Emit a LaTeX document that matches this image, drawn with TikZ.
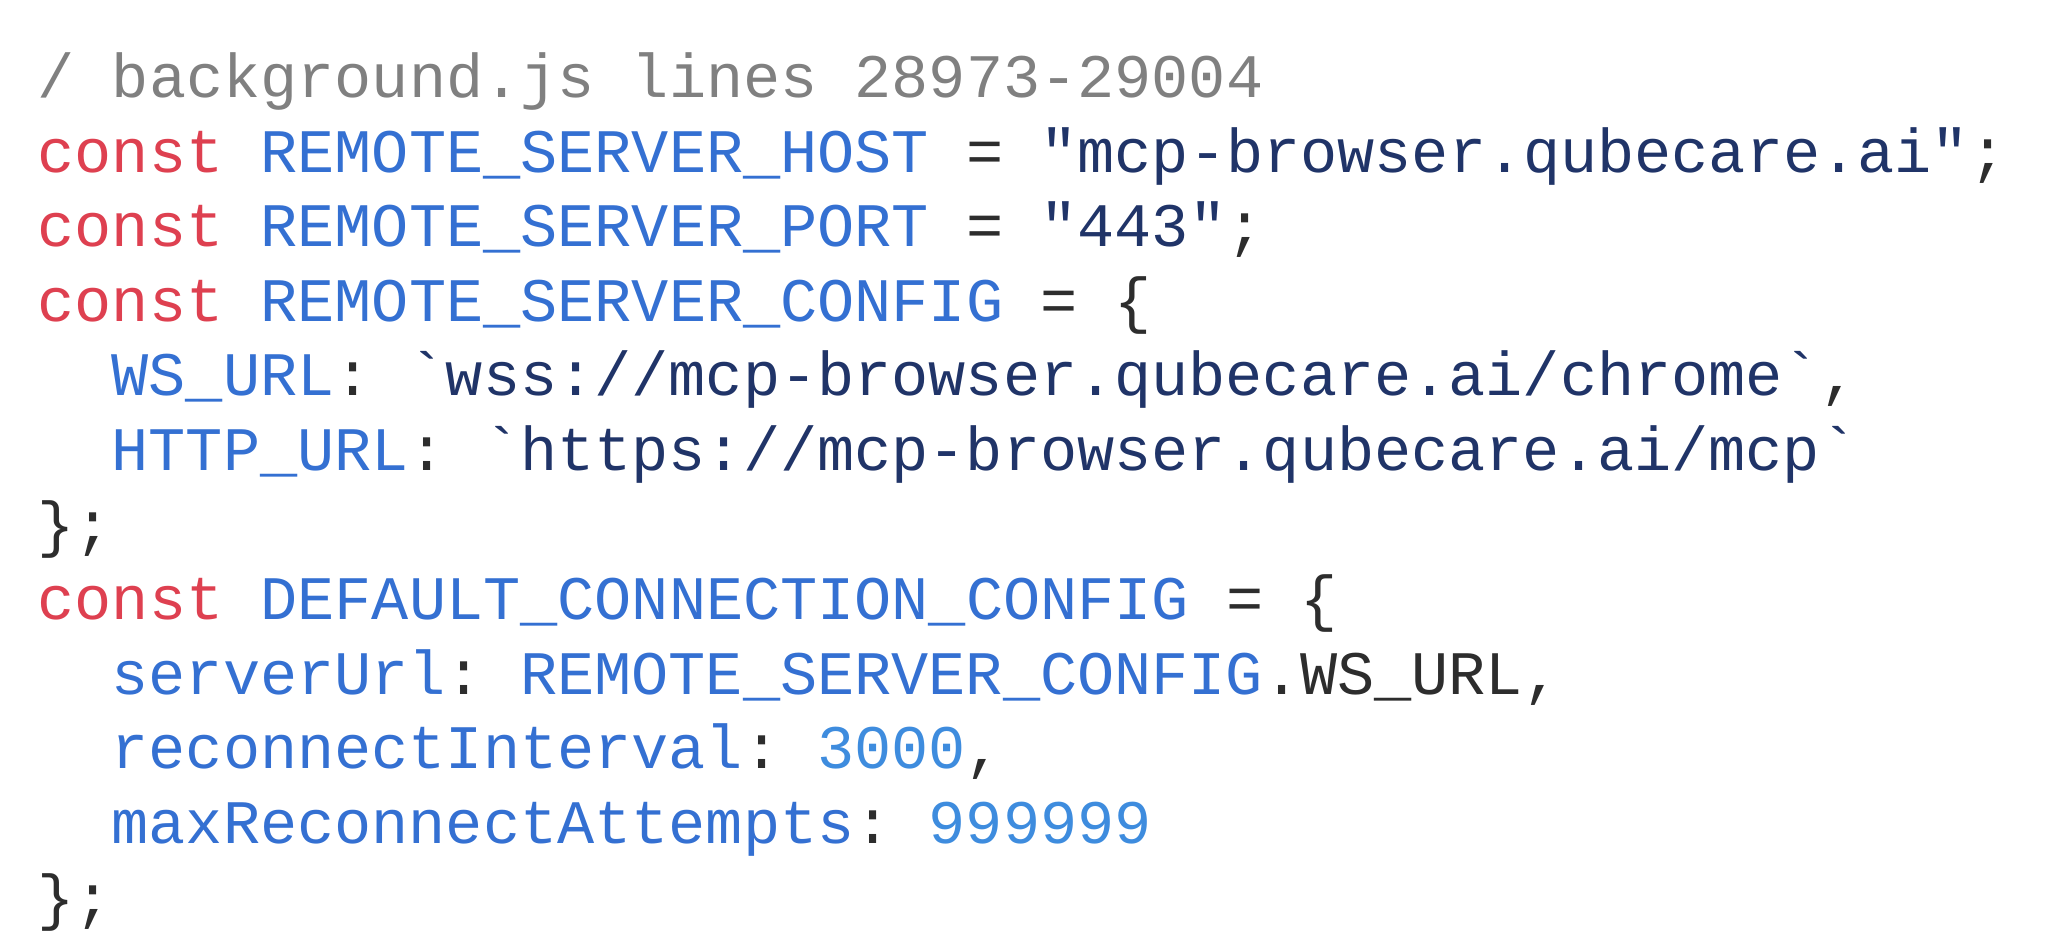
\documentclass[tikz,border=0pt]{standalone}
\usepackage{fontspec}
\setmonofont{Liberation Mono}
\usepackage{tikz}
\definecolor{kwred}{RGB}{222,64,80}
\definecolor{idblue}{RGB}{52,112,210}
\definecolor{strnavy}{RGB}{32,52,104}
\definecolor{numblue}{RGB}{62,140,222}
\definecolor{cmtgray}{RGB}{128,128,128}
\definecolor{punct}{RGB}{45,45,45}
\newcommand{\kw}[1]{\textcolor{kwred}{#1}}
\newcommand{\id}[1]{\textcolor{idblue}{#1}}
\newcommand{\str}[1]{\textcolor{strnavy}{#1}}
\newcommand{\num}[1]{\textcolor{numblue}{#1}}
\newcommand{\bq}{\symbol{96}}

\begin{document}
\begin{tikzpicture}[x=0.01cm, y=-0.01cm,
  codeline/.style={anchor=base west, inner sep=0pt, text=punct,
    font=\ttfamily\fontsize{17.6pt}{21pt}\selectfont}]
\useasboundingbox (0,0) rectangle (2048,939);

%%%%%%%%%%%%%%% header %%%%%%%%%%%%%%%%
\node[codeline, text=cmtgray] (l1) at (37,97) {/ background.js lines 28973-29004};

%%%%%%%%%%%%%%% server config %%%%%%%%%%%%%%%%
\node[codeline] (l2) at (37,172) {\kw{const} \id{REMOTE\_SERVER\_HOST} = \str{"mcp-browser.qubecare.ai"};};
\node[codeline] (l3) at (37,246) {\kw{const} \id{REMOTE\_SERVER\_PORT} = \str{"443"};};
\node[codeline] (l4) at (37,321) {\kw{const} \id{REMOTE\_SERVER\_CONFIG} = \{};
\node[codeline] (l5) at (111,395) {\id{WS\_URL}: \str{\bq wss://mcp-browser.qubecare.ai/chrome\bq},};
\node[codeline] (l6) at (111,470) {\id{HTTP\_URL}: \str{\bq https://mcp-browser.qubecare.ai/mcp\bq}};
\node[codeline] (l7) at (37,545) {\};};

%%%%%%%%%%%%%%% connection config %%%%%%%%%%%%%%%%
\node[codeline] (l8) at (37,619) {\kw{const} \id{DEFAULT\_CONNECTION\_CONFIG} = \{};
\node[codeline] (l9) at (111,694) {\id{serverUrl}: \id{REMOTE\_SERVER\_CONFIG}.WS\_URL,};
\node[codeline] (l10) at (111,768) {\id{reconnectInterval}: \num{3000},};
\node[codeline] (l11) at (111,843) {\id{maxReconnectAttempts}: \num{999999}};
\node[codeline] (l12) at (37,918) {\};};

\end{tikzpicture}
\end{document}
